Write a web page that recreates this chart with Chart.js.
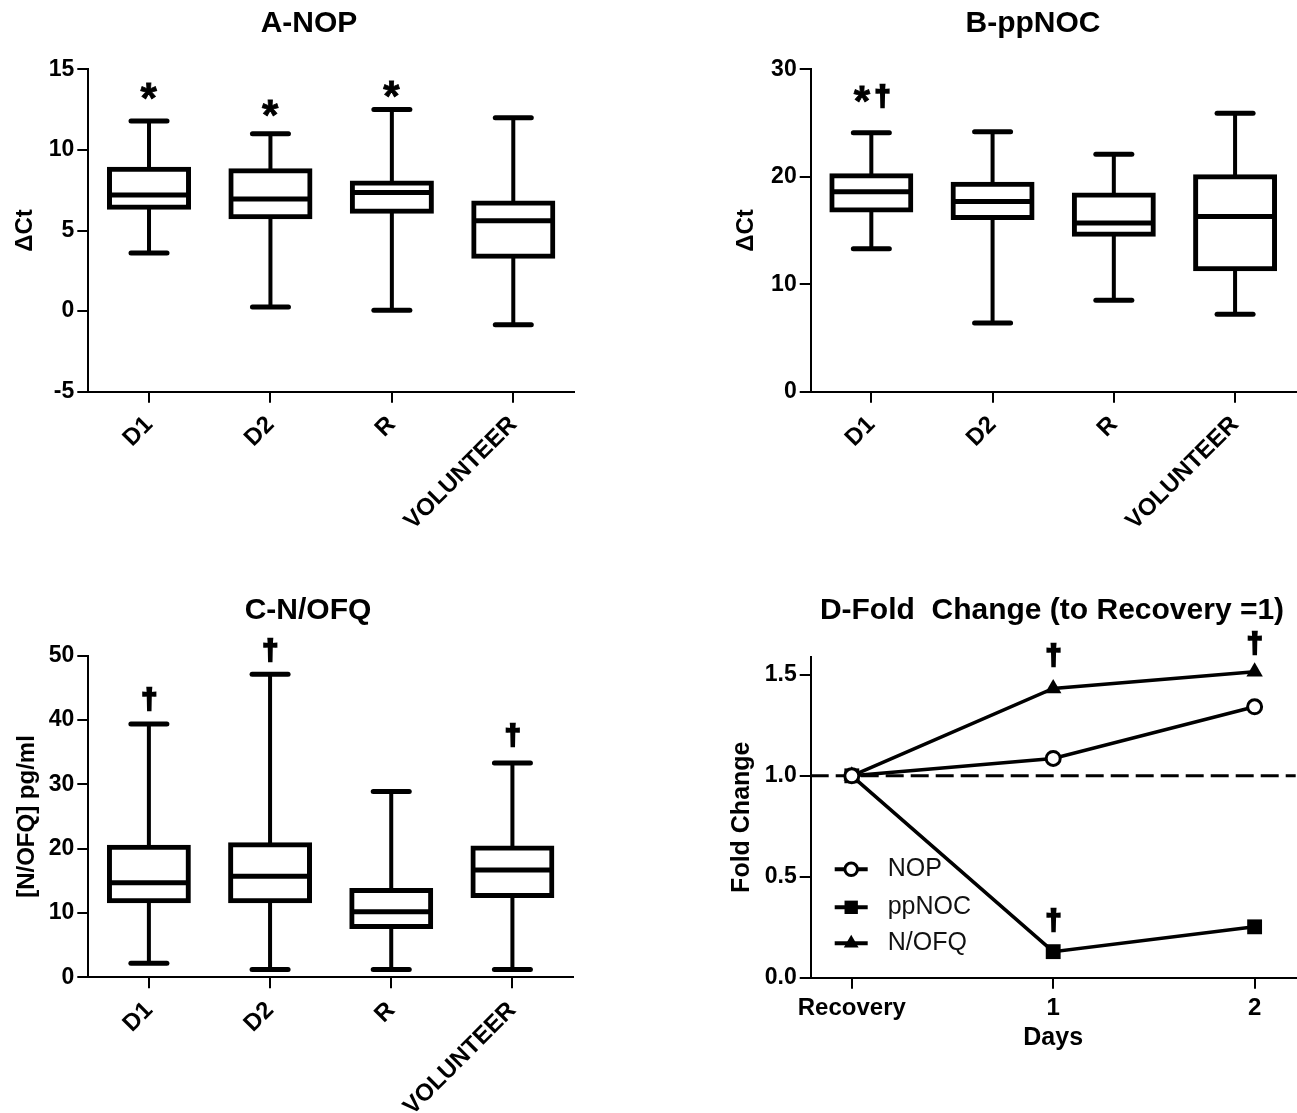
<!DOCTYPE html>
<html>
<head>
<meta charset="utf-8">
<script src="https://cdn.jsdelivr.net/npm/chart.js@4.4.1/dist/chart.umd.min.js"></script>
<style>
  body { margin: 0; background: #fff; }
  #fig { position: relative; width: 1297px; height: 1113px; overflow: hidden; }
  #fig canvas { position: absolute; }
  .ttl {
    position: absolute;
    transform: translate(-50%, -50%);
    font: bold 30px "Liberation Sans", Arial, sans-serif;
    white-space: pre;
    color: #000;
  }
</style>
</head>
<body>
<div id="fig">
  <canvas id="cA" width="648" height="556" style="left:0;top:0"></canvas>
  <canvas id="cB" width="649" height="556" style="left:648px;top:0"></canvas>
  <canvas id="cC" width="648" height="557" style="left:0;top:556px"></canvas>
  <canvas id="cD" width="649" height="557" style="left:648px;top:556px"></canvas>
  <div class="ttl" style="left:309px;top:22px">A-NOP</div>
  <div class="ttl" style="left:1033px;top:22px">B-ppNOC</div>
  <div class="ttl" style="left:308px;top:609px">C-N/OFQ</div>
  <div class="ttl" style="left:1052px;top:609px">D-Fold  Change (to Recovery =1)</div>
</div>
<script>
const groups = ['D1', 'D2', 'R', 'VOLUNTEER'];

// A - NOP (ΔCt)
const nopMin = [3.6, 0.25, 0.05, -0.85];
const nopQ1 = [6.45, 5.85, 6.2, 3.4];
const nopMed = [7.2, 6.95, 7.35, 5.6];
const nopQ3 = [8.8, 8.7, 7.95, 6.7];
const nopMax = [11.8, 11.0, 12.5, 12.0];
const nopMarks = ['*', '*', '*', ''];
const nopMarkTop = [14.13, 13.08, 14.25, null];

// B - ppNOC (ΔCt)
const ppnocMin = [13.3, 6.4, 8.5, 7.2];
const ppnocQ1 = [16.9, 16.2, 14.65, 11.45];
const ppnocMed = [18.6, 17.7, 15.7, 16.3];
const ppnocQ3 = [20.1, 19.3, 18.3, 20.0];
const ppnocMax = [24.1, 24.2, 22.1, 25.9];
const ppnocMarks = ['*†', '', '', ''];
const ppnocMarkTop = [28.4, null, null, null];

// C - N/OFQ (pg/ml)
const nofqMin = [2.2, 1.2, 1.2, 1.2];
const nofqQ1 = [11.9, 11.9, 7.9, 12.7];
const nofqMed = [14.7, 15.7, 10.2, 16.7];
const nofqQ3 = [20.2, 20.6, 13.5, 20.1];
const nofqMax = [39.4, 47.1, 28.9, 33.3];
const nofqMarks = ['†', '†', '', '†'];
const nofqMarkTop = [44.9, 52.4, null, 39.2];

// D - fold change vs recovery
const dayLabels = ['Recovery', '1', '2'];
const dayX = [0, 1, 2];
const foldNop = [1.0, 1.086, 1.342];
const foldPpnoc = [1.0, 0.129, 0.252];
const foldNofq = [1.0, 1.433, 1.515];
const foldRef = 1.0;
const foldMarks = ['†', '†', '†'];
const foldMarkX = [1, 2, 1];
const foldMarkTop = [1.647, 1.705, 0.335];

const FONT = '"Liberation Sans", Arial, sans-serif';
Chart.defaults.font.family = FONT;
Chart.defaults.color = '#000';

// significance symbols, top of glyph sits on the given value
function drawMarks(chart, texts, xs, tops) {
  const ctx = chart.ctx;
  const sx = chart.scales.x, sy = chart.scales.y;
  ctx.save();
  ctx.fillStyle = '#000';
  ctx.strokeStyle = '#000';
  ctx.textAlign = 'left';
  ctx.textBaseline = 'alphabetic';
  texts.forEach((txt, i) => {
    if (!txt) return;
    const gap = 5;
    const parts = Array.from(txt).map(ch => {
      ctx.font = 'bold ' + (ch === '*' ? 42 : 28) + 'px ' + FONT;
      const m = ctx.measureText(ch);
      return { ch, font: ctx.font, l: m.actualBoundingBoxLeft, r: m.actualBoundingBoxRight, asc: m.actualBoundingBoxAscent };
    });
    const total = parts.reduce((s, p) => s + p.l + p.r, 0) + gap * (parts.length - 1);
    let cx = sx.getPixelForValue(xs[i]) - total / 2;
    const top = sy.getPixelForValue(tops[i]);
    parts.forEach(p => {
      ctx.font = p.font;
      const bx = cx + p.l, by = top + p.asc;
      ctx.fillText(p.ch, bx, by);
      if (p.ch === '†') {
        // the dagger in the figure is heavier than the font's bold
        ctx.lineWidth = 2.4;
        ctx.strokeText(p.ch, bx, by - 1);
      } else {
        ctx.lineWidth = 0.8;
        ctx.strokeText(p.ch, bx, by);
      }
      cx += p.l + p.r + gap;
    });
  });
  ctx.restore();
}

function boxPlugin(s) {
  return {
    id: 'boxPlot',
    beforeDatasetsDraw(chart) {
      const { ctx } = chart;
      const x = chart.scales.x, y = chart.scales.y;
      ctx.save();
      ctx.strokeStyle = '#000';
      s.min.forEach((mn, i) => {
        const px = x.getPixelForValue(i);
        ctx.lineWidth = 4;
        ctx.beginPath();
        ctx.moveTo(px, y.getPixelForValue(s.max[i]));
        ctx.lineTo(px, y.getPixelForValue(s.q3[i]));
        ctx.moveTo(px, y.getPixelForValue(s.q1[i]));
        ctx.lineTo(px, y.getPixelForValue(mn));
        ctx.stroke();
        // caps
        ctx.lineWidth = 5;
        ctx.lineCap = 'round';
        [mn, s.max[i]].forEach(v => {
          const py = y.getPixelForValue(v);
          ctx.beginPath();
          ctx.moveTo(px - 18, py);
          ctx.lineTo(px + 18, py);
          ctx.stroke();
        });
        ctx.lineCap = 'butt';
      });
      ctx.restore();
    },
    afterDatasetsDraw(chart) {
      const { ctx } = chart;
      const y = chart.scales.y;
      ctx.save();
      ctx.strokeStyle = '#000';
      ctx.lineWidth = 5;
      chart.getDatasetMeta(0).data.forEach((bar, i) => {
        const py = y.getPixelForValue(s.med[i]);
        ctx.beginPath();
        ctx.moveTo(bar.x - bar.width / 2, py);
        ctx.lineTo(bar.x + bar.width / 2, py);
        ctx.stroke();
      });
      ctx.restore();
    },
    afterDraw(chart) {
      drawMarks(chart, s.marks, s.min.map((_, i) => i), s.markTop);
    }
  };
}

function axisGrid() {
  return { drawOnChartArea: false, color: '#000', lineWidth: 2, tickLength: 11 };
}

// fixed axis sizes so every panel's plot area lands where the figure has it
function fixHeight(h) {
  return sc => { sc.height = h; sc.paddingLeft = 0; sc.paddingRight = 0; };
}
function fixWidth(w) {
  return sc => { sc.width = w; };
}

function boxChart(id, s, yr, pad, xHeight, yTitle, yTitlePad) {
  return new Chart(document.getElementById(id), {
    type: 'bar',
    data: {
      labels: groups,
      datasets: [{
        data: s.q1.map((v, i) => [v, s.q3[i]]),
        backgroundColor: '#fff',
        borderColor: '#000',
        borderWidth: 5,
        inflateAmount: 2.5,   // centres the 5px outline on the quartile values
        borderSkipped: false,
        barPercentage: 0.651,
        categoryPercentage: 1
      }]
    },
    options: {
      responsive: false,
      animation: false,
      layout: { padding: pad, autoPadding: false },
      plugins: { legend: { display: false }, tooltip: { enabled: false } },
      scales: {
        x: {
          offset: true,
          grid: Object.assign(axisGrid(), { offset: false }),
          border: { color: '#000', width: 2 },
          ticks: { autoSkip: false, minRotation: 45, maxRotation: 45, padding: 8, color: '#000', font: { size: 24, weight: 'bold' } },
          afterFit: fixHeight(xHeight)
        },
        y: {
          min: yr[0], max: yr[1],
          grid: axisGrid(),
          border: { color: '#000', width: 2 },
          ticks: { stepSize: yr[2], padding: 3, color: '#000', font: { size: 23, weight: 'bold' } },
          title: { display: true, text: yTitle, color: '#000', font: { size: 24, weight: 'bold' }, padding: { top: yTitlePad, bottom: 0 } },
          afterFit: fixWidth(88.3)
        }
      }
    },
    plugins: [boxPlugin(s)]
  });
}

boxChart('cA',
  { min: nopMin, q1: nopQ1, med: nopMed, q3: nopQ3, max: nopMax, marks: nopMarks, markTop: nopMarkTop },
  [-5, 15, 5], { left: 0, top: 69.3, right: 74, bottom: 0 }, 164.3, 'ΔCt', 10.6);

boxChart('cB',
  { min: ppnocMin, q1: ppnocQ1, med: ppnocMed, q3: ppnocQ3, max: ppnocMax, marks: ppnocMarks, markTop: ppnocMarkTop },
  [0, 30, 10], { left: 74.4, top: 69.3, right: 1.3, bottom: 0 }, 164.3, 'ΔCt', 9.9);

boxChart('cC',
  { min: nofqMin, q1: nofqQ1, med: nofqMed, q3: nofqQ3, max: nofqMax, marks: nofqMarks, markTop: nofqMarkTop },
  [0, 50, 10], { left: 0, top: 99.7, right: 75, bottom: 0 }, 135.7, '[N/OFQ] pg/ml', 12.6);

// panel D
const foldLegend = {
  id: 'foldLegend',
  afterDraw(chart) {
    const { ctx, chartArea } = chart;
    const rows = [108.4, 70.4, 34.4];
    chart.data.datasets.slice(0, 3).forEach((ds, i) => {
      const y = chartArea.bottom - rows[i];
      const x0 = chartArea.left + 24;
      ctx.save();
      ctx.strokeStyle = '#000';
      ctx.lineWidth = 4;
      ctx.beginPath();
      ctx.moveTo(x0, y);
      ctx.lineTo(x0 + 33, y);
      ctx.stroke();
      ctx.fillStyle = ds.pointBackgroundColor;
      ctx.lineWidth = ds.pointBorderWidth;
      Chart.helpers.drawPoint(ctx, { pointStyle: ds.pointStyle, radius: ds.pointRadius * 0.9, borderWidth: ds.pointBorderWidth, rotation: 0 }, x0 + 16.5, y);
      ctx.fillStyle = '#111';
      ctx.font = '25px ' + FONT;
      ctx.textAlign = 'left';
      ctx.textBaseline = 'middle';
      ctx.fillText(ds.label, chartArea.left + 77, y);
      ctx.restore();
    });
  },
  afterDatasetsDraw(chart) {
    drawMarks(chart, foldMarks, foldMarkX, foldMarkTop);
  }
};

const xMin = -0.204, xMax = 2.204;
const pts = arr => dayX.map((x, i) => ({ x, y: arr[i] }));
const lineStyle = { borderColor: '#000', borderWidth: 3.5, tension: 0, clip: false, pointBorderColor: '#000' };

new Chart(document.getElementById('cD'), {
  type: 'line',
  data: {
    datasets: [
      Object.assign({ label: 'NOP', data: pts(foldNop), pointStyle: 'circle', pointRadius: 7, pointBorderWidth: 3, pointBackgroundColor: '#fff', order: 1 }, lineStyle),
      Object.assign({ label: 'ppNOC', data: pts(foldPpnoc), pointStyle: 'rect', pointRadius: 10.5, pointBorderWidth: 0, pointBackgroundColor: '#000', order: 2 }, lineStyle),
      Object.assign({ label: 'N/OFQ', data: pts(foldNofq), pointStyle: 'triangle', pointRadius: 9.5, pointBorderWidth: 0, pointBackgroundColor: '#000', order: 3 }, lineStyle),
      { label: 'ref', data: [{ x: xMin, y: foldRef }, { x: xMax, y: foldRef }], borderColor: '#000', borderWidth: 3, borderDash: [18, 7], pointRadius: 0, clip: false, order: 9 }
    ]
  },
  options: {
    responsive: false,
    animation: false,
    // no auto padding: it would pull the right edge in for the point radius
    layout: { padding: { left: 74.4, top: 100.7, right: 1.3, bottom: 57.3 }, autoPadding: false },
    plugins: { legend: { display: false }, tooltip: { enabled: false } },
    scales: {
      x: {
        type: 'linear', min: xMin, max: xMax,
        grid: axisGrid(),
        border: { color: '#000', width: 2 },
        ticks: { stepSize: 1, includeBounds: false, padding: 5, color: '#000', font: { size: 24, weight: 'bold' },
          callback: v => dayLabels[v] ?? '' },
        title: { display: true, text: 'Days', color: '#000', font: { size: 25, weight: 'bold' }, padding: { top: 0, bottom: 2.7 } },
        afterFit: fixHeight(78)
      },
      y: {
        min: 0, max: 1.59,
        grid: axisGrid(),
        border: { color: '#000', width: 2 },
        ticks: { stepSize: 0.5, includeBounds: false, padding: 3, color: '#000', font: { size: 23, weight: 'bold' },
          callback: v => v.toFixed(1) },
        title: { display: true, text: 'Fold Change', color: '#000', font: { size: 25, weight: 'bold' }, padding: { top: 4.6, bottom: 0 } },
        afterFit: fixWidth(88.3)
      }
    }
  },
  plugins: [foldLegend]
});
</script>
</body>
</html>
